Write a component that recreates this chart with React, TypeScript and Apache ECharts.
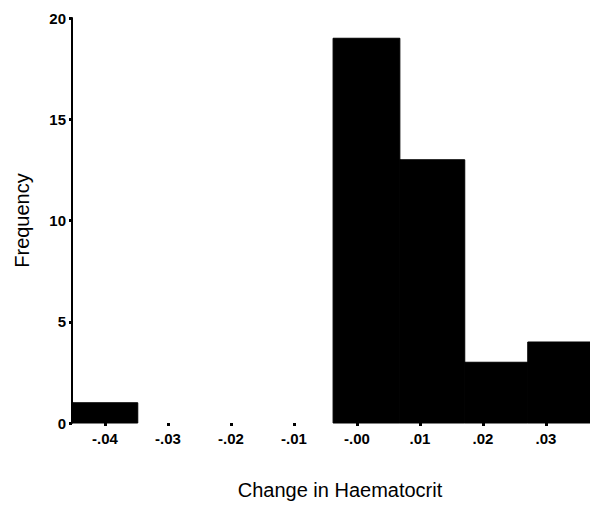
import React, { useEffect, useRef } from "react";
import * as echarts from "echarts";

// Histogram bins (bin edges in haematocrit units)
const binStart = [-0.0451, -0.0038, 0.0068, 0.0171, 0.0271];
const binEnd = [-0.0348, 0.0068, 0.0171, 0.0271, 0.037];
const frequency = [1, 19, 13, 3, 4];

const xTickValues = [-0.04, -0.03, -0.02, -0.01, 0, 0.01, 0.02, 0.03];
const xTickLabels = ["-.04", "-.03", "-.02", "-.01", "-.00", ".01", ".02", ".03"];
const yTickValues = [0, 5, 10, 15, 20];

const FONT = "'Liberation Sans', Arial, sans-serif";

export default function App() {
  const ref = useRef<HTMLDivElement>(null);
  useEffect(() => {
    if (!ref.current) return;
    const chart = echarts.init(ref.current, undefined, { renderer: "svg" });
    const data = binStart.map((s, i) => [s, binEnd[i], frequency[i]]);
    chart.setOption({
      animation: false,
      backgroundColor: "#fff",
      grid: { left: 72, right: 0, top: 18, bottom: 79, containLabel: false },
      xAxis: {
        type: "value",
        min: -0.04524,
        max: 0.03698,
        name: "Change in Haematocrit",
        nameLocation: "middle",
        nameGap: 57,
        nameTextStyle: { fontFamily: FONT, fontSize: 20, color: "#000", padding: [0, 0, 0, 18] },
        axisLine: { show: false, onZero: false },
        splitLine: { show: false },
        axisTick: {
          show: true,
          length: 3,
          lineStyle: { color: "#000", width: 3 },
          customValues: xTickValues,
        },
        axisLabel: {
          customValues: xTickValues,
          fontFamily: FONT,
          fontSize: 15,
          fontWeight: "bold",
          color: "#000",
          margin: 8,
          formatter: (v: number) => {
            let best = 0;
            xTickValues.forEach((t, i) => {
              if (Math.abs(t - v) < Math.abs(xTickValues[best] - v)) best = i;
            });
            return xTickLabels[best];
          },
        },
      },
      yAxis: {
        type: "value",
        min: 0,
        max: 20,
        interval: 5,
        name: "Frequency",
        nameLocation: "middle",
        nameGap: 40,
        nameRotate: 90,
        nameTextStyle: { fontFamily: FONT, fontSize: 20, color: "#000" },
        axisLine: { show: true, onZero: false, lineStyle: { color: "#000", width: 2 } },
        axisTick: { show: true, length: 3, lineStyle: { color: "#000", width: 3 } },
        splitLine: { show: false },
        axisLabel: {
          fontFamily: FONT,
          fontSize: 15,
          fontWeight: "bold",
          color: "#000",
          margin: 6,
        },
      },
      series: [
        {
          type: "custom",
          encode: { x: [0, 1], y: 2 },
          data,
          renderItem: (params: any, api: any) => {
            const p0 = api.coord([api.value(0), api.value(2)]);
            const p1 = api.coord([api.value(1), 0]);
            return {
              type: "rect",
              shape: { x: p0[0], y: p0[1], width: p1[0] - p0[0], height: p1[1] - p0[1] },
              style: { fill: "#000", stroke: "#000", lineWidth: 1 },
            };
          },
        },
      ],
    });
    return () => chart.dispose();
  }, []);
  return (
    <div
      ref={ref}
      style={{ position: "fixed", left: 0, top: 0, width: 590, height: 505, background: "#fff" }}
    />
  );
}
